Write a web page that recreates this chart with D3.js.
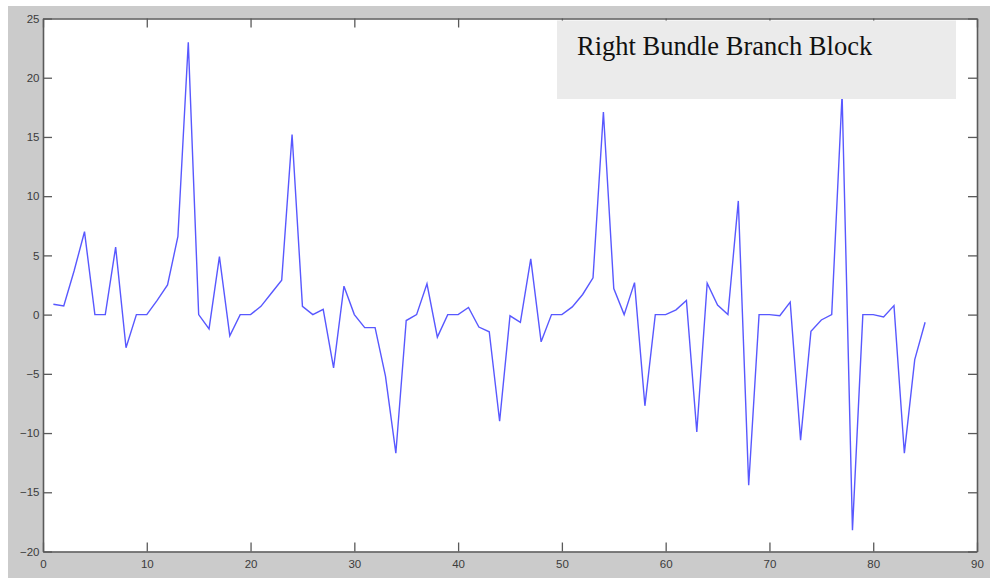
<!DOCTYPE html>
<html>
<head>
<meta charset="utf-8">
<script src="https://cdn.jsdelivr.net/npm/d3@7"></script>
<style>
  html, body { margin: 0; padding: 0; background: #ffffff; }
  svg { display: block; }
</style>
</head>
<body>
<svg id="chart" width="990" height="578"></svg>
<script>
// ---- data ----
const values = [
  0.88, 0.73, 3.7, 7.0, 0, 0, 5.7, -2.8, 0, 0,
  1.2, 2.5, 6.6, 23.0, 0, -1.2, 4.9, -1.8, 0, 0,
  0.7, 1.8, 2.9, 15.2, 0.7, 0, 0.45, -4.5, 2.4, 0,
  -1.1, -1.1, -5.2, -11.7, -0.5, 0, 2.6, -1.9, 0, 0,
  0.6, -1.05, -1.45, -9.0, -0.1, -0.65, 4.7, -2.3, 0, 0,
  0.65, 1.7, 3.1, 17.1, 2.2, 0, 2.7, -7.7, 0, 0,
  0.4, 1.2, -9.9, 2.65, 0.8, 0, 9.6, -14.4, 0, 0,
  -0.1, 1.05, -10.6, -1.4, -0.45, 0, 18.6, -18.2, 0, 0,
  -0.2, 0.76, -11.7, -3.8, -0.65
];
const xTicks = [0, 10, 20, 30, 40, 50, 60, 70, 80, 90];
const yTicks = [-20, -15, -10, -5, 0, 5, 10, 15, 20, 25];
const legendLabel = "Right Bundle Branch Block";

// ---- layout ----
const svg = d3.select("#chart");
const W = 990, H = 578;
const plot = { left: 43, right: 977, top: 18.5, bottom: 551.5 };

const x = d3.scaleLinear().domain([0, 90]).range([plot.left, plot.right]);
const y = d3.scaleLinear().domain([-20, 25]).range([plot.bottom, plot.top]);

// figure background
svg.append("rect").attr("x", 0).attr("y", 0).attr("width", W).attr("height", H).attr("fill", "#ffffff");
svg.append("rect").attr("x", 8).attr("y", 6).attr("width", W - 8).attr("height", H - 6).attr("fill", "#cbcbcb");
// axes background
svg.append("rect")
  .attr("x", plot.left).attr("y", plot.top)
  .attr("width", plot.right - plot.left).attr("height", plot.bottom - plot.top)
  .attr("fill", "#ffffff");

// data line
const line = d3.line()
  .x((d, i) => x(i + 1))
  .y(d => y(d));

svg.append("path")
  .datum(values)
  .attr("d", line)
  .attr("fill", "none")
  .attr("stroke", "#5858ff")
  .attr("stroke-width", 1.4)
  .attr("stroke-linejoin", "miter");

// axes
const tickLen = 9;
const axisColor = "#5a5a5a";
const labelColor = "#3c3c3c";

function styleAxis(g, showLabels) {
  g.select(".domain").attr("stroke", axisColor).attr("stroke-width", 1.6);
  g.selectAll(".tick line").attr("stroke", axisColor).attr("stroke-width", 1.3);
  g.selectAll(".tick text")
    .attr("fill", labelColor)
    .style("font-family", "'Liberation Sans', Arial, sans-serif")
    .style("font-size", "11.5px");
  if (!showLabels) g.selectAll(".tick text").remove();
  g.attr("font-size", null).attr("font-family", null);
}

svg.append("g")
  .attr("transform", `translate(0,${plot.bottom})`)
  .call(d3.axisBottom(x).tickValues(xTicks).tickSizeInner(-tickLen).tickSizeOuter(0).tickPadding(8))
  .call(g => styleAxis(g, true));

svg.append("g")
  .attr("transform", `translate(0,${plot.top})`)
  .call(d3.axisTop(x).tickValues(xTicks).tickSizeInner(-tickLen).tickSizeOuter(0))
  .call(g => styleAxis(g, false));

svg.append("g")
  .attr("transform", `translate(${plot.left},0)`)
  .call(d3.axisLeft(y).tickValues(yTicks).tickSizeInner(-tickLen).tickSizeOuter(0).tickPadding(3.5))
  .call(g => styleAxis(g, true));

svg.append("g")
  .attr("transform", `translate(${plot.right},0)`)
  .call(d3.axisRight(y).tickValues(yTicks).tickSizeInner(-tickLen).tickSizeOuter(0))
  .call(g => styleAxis(g, false));

// legend / annotation box
const legend = svg.append("g");
legend.append("rect")
  .attr("x", 557).attr("y", 20.5)
  .attr("width", 956 - 557).attr("height", 99 - 20.5)
  .attr("fill", "#ebebeb");
legend.append("text")
  .attr("x", 577).attr("y", 54.5)
  .attr("fill", "#111111")
  .style("font-family", "'Liberation Serif', 'Times New Roman', serif")
  .style("font-size", "26.5px")
  .text(legendLabel);
</script>
</body>
</html>
